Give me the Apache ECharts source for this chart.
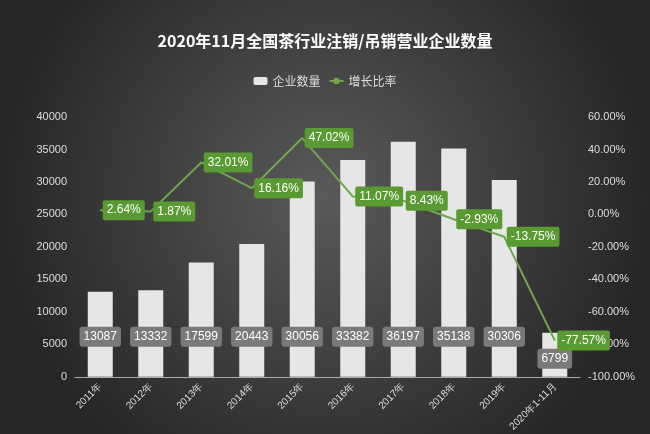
<!DOCTYPE html>
<html>
<head>
<meta charset="utf-8">
<script src="https://cdn.jsdelivr.net/npm/echarts@6/dist/echarts.min.js"></script>
<style>
  html, body { margin: 0; padding: 0; }
  #chart { width: 650px; height: 434px; }
</style>
</head>
<body>
<div id="chart"></div>
<script>
const years = ['2011年', '2012年', '2013年', '2014年', '2015年', '2016年', '2017年', '2018年', '2019年', '2020年1-11月'];
const companyCount = [13087, 13332, 17599, 20443, 30056, 33382, 36197, 35138, 30306, 6799];
const growthRate = [2.64, 1.87, 32.01, 16.16, 47.02, 11.07, 8.43, -2.93, -13.75, -77.57];

const chart = echarts.init(document.getElementById('chart'));

// the last bar is short, so its label sits lower
const barData = companyCount.map((v, i) =>
    i === companyCount.length - 1 ? { value: v, label: { distance: 8 } } : v);

chart.setOption({
    backgroundColor: {
        type: 'radial', x: 0.5, y: 0.45, r: 0.75,
        colorStops: [
            { offset: 0, color: '#5a5a5a' },
            { offset: 1, color: '#262626' }
        ]
    },
    title: {
        text: '2020年11月全国茶行业注销/吊销营业企业数量',
        left: 'center',
        top: 28,
        textStyle: { color: '#fff', fontSize: 16, fontWeight: 'bold', fontFamily: 'Noto Sans CJK SC' }
    },
    legend: {
        top: 70,
        left: 'center',
        itemWidth: 14,
        itemHeight: 8,
        textStyle: { color: '#ddd', fontSize: 12, fontFamily: 'Noto Sans CJK SC' },
        data: ['企业数量', '增长比率']
    },
    grid: { left: 75, right: 70, top: 117, bottom: 56 },
    xAxis: {
        type: 'category',
        data: years,
        axisLine: { lineStyle: { color: '#aaa' } },
        axisTick: { show: false },
        axisLabel: { color: '#ddd', rotate: 45, fontSize: 10, margin: 8 }
    },
    yAxis: [
        {
            type: 'value', min: 0, max: 40000, interval: 5000,
            axisLabel: { color: '#ddd', fontSize: 11, formatter: v => String(v) },
            splitLine: { show: false },
            axisLine: { show: false }
        },
        {
            type: 'value', min: -100, max: 60, interval: 20,
            axisLabel: { color: '#ddd', fontSize: 11, formatter: v => v.toFixed(2) + '%' },
            splitLine: { show: false },
            axisLine: { show: false }
        }
    ],
    series: [
        {
            name: '企业数量',
            type: 'bar',
            barWidth: 25,
            data: barData,
            itemStyle: { color: '#e6e6e6' },
            label: {
                show: true, position: 'insideBottom', distance: 30,
                color: '#fff', fontSize: 12,
                backgroundColor: '#7a7a7a', borderRadius: 3, padding: [4, 4]
            }
        },
        {
            name: '增长比率',
            type: 'line',
            yAxisIndex: 1,
            z: 5,
            data: growthRate,
            symbol: 'circle',
            symbolSize: 1,
            lineStyle: { color: '#6fa84a', width: 2 },
            itemStyle: { color: '#6fa84a' },
            labelLayout: { hideOverlap: false },
            label: {
                show: true, position: 'right', distance: 2,
                color: '#fff', fontSize: 12,
                backgroundColor: '#5a9a32', borderRadius: 2, padding: [4, 4],
                formatter: p => p.value.toFixed(2) + '%'
            }
        }
    ]
});
</script>
</body>
</html>
